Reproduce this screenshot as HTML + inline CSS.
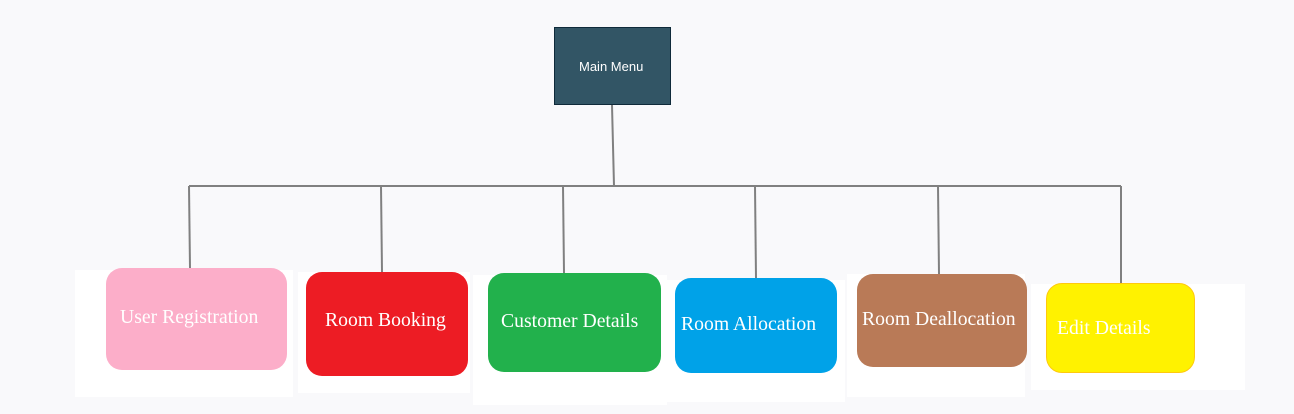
<!DOCTYPE html>
<html><head><style>
body{margin:0;width:1294px;height:414px;background:#f9f9fb;position:relative;overflow:hidden;font-family:"Liberation Serif",serif}
.p{position:absolute;background:#fff}
.b{position:absolute;border-radius:16px;color:#fff;font-size:19.7px;box-sizing:border-box}
.b span{position:absolute;white-space:nowrap}
</style></head><body>
<div class="p" style="left:75px;top:270px;width:218px;height:127px"></div>
<div class="p" style="left:298px;top:272px;width:172px;height:121px"></div>
<div class="p" style="left:473px;top:275px;width:194px;height:130px"></div>
<div class="p" style="left:667px;top:280px;width:178px;height:122px"></div>
<div class="p" style="left:847px;top:274px;width:178px;height:123px"></div>
<div class="p" style="left:1031px;top:284px;width:214px;height:106px"></div>
<svg style="position:absolute;left:0;top:0" width="1294" height="414">
<g stroke="#808080" stroke-width="2" fill="none">
<line x1="612" y1="105" x2="614" y2="186"/>
<line x1="189" y1="186" x2="1121" y2="186"/>
<line x1="189" y1="186" x2="190" y2="268"/>
<line x1="381" y1="186" x2="382" y2="272"/>
<line x1="563" y1="186" x2="564" y2="273"/>
<line x1="755" y1="186" x2="756" y2="278"/>
<line x1="938" y1="186" x2="939" y2="274"/>
<line x1="1121" y1="186" x2="1121" y2="283"/>
</g></svg>
<div style="position:absolute;left:554px;top:27px;width:117px;height:78px;box-sizing:border-box;background:#325565;border:1px solid #0f2a3a;color:#fff;font:13px 'Liberation Sans',sans-serif;line-height:78px;padding-left:24px">Main Menu</div>
<div class="b" style="left:106px;top:268px;width:181px;height:102px;background:#fcaec9"><span style="left:14px;top:38px">User Registration</span></div>
<div class="b" style="left:306px;top:272px;width:162px;height:104px;background:#ed1c24"><span style="left:19px;top:37px">Room Booking</span></div>
<div class="b" style="left:488px;top:273px;width:173px;height:99px;background:#22b14c"><span style="left:13px;top:37px">Customer Details</span></div>
<div class="b" style="left:675px;top:278px;width:162px;height:95px;background:#00a2e8"><span style="left:6px;top:35px">Room Allocation</span></div>
<div class="b" style="left:857px;top:274px;width:170px;height:93px;background:#b97a57"><span style="left:5px;top:34px">Room Deallocation</span></div>
<div class="b" style="left:1046px;top:283px;width:149px;height:90px;background:#fff200;border:1px solid #ffc90e"><span style="left:10px;top:33px">Edit Details</span></div>
</body></html>
